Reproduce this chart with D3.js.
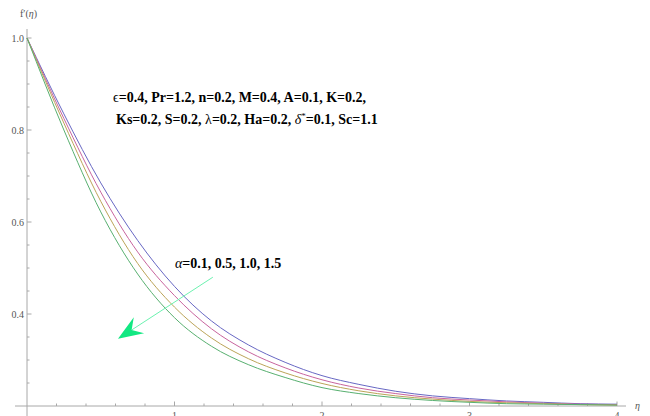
<!DOCTYPE html>
<html><head><meta charset="utf-8">
<script src="https://cdn.jsdelivr.net/npm/d3@7"></script>
<style>body{margin:0;background:#fff}svg{display:block}</style>
</head><body>
<script>
const eta = [0,0.25,0.5,0.75,1.0,1.25,1.5,1.75,2.0,2.25,2.5,2.75,3.0,3.25,3.5,3.75,4.0];
const alpha01 = [1.0,0.835,0.685,0.56,0.46,0.385,0.333,0.295,0.266,0.247,0.232,0.222,0.216,0.211,0.208,0.205,0.204];
const alpha05 = [1.0,0.825,0.665,0.535,0.44,0.368,0.318,0.283,0.257,0.239,0.227,0.218,0.213,0.209,0.206,0.204,0.203];
const alpha10 = [1.0,0.815,0.645,0.51,0.415,0.348,0.303,0.272,0.249,0.233,0.222,0.215,0.210,0.207,0.205,0.203,0.202];
const alpha15 = [1.0,0.80,0.622,0.487,0.392,0.33,0.29,0.262,0.24,0.227,0.218,0.212,0.208,0.205,0.204,0.203,0.202];
const seriesColors = ["#6868c4","#c8649e","#bca458","#58b070"];
const xTicks = [1,2,3,4];
const yTicks = [0.4,0.6,0.8,1.0];

const W=650,H=416;
const svg=d3.select("body").append("svg").attr("width",W).attr("height",H);
const x=d3.scaleLinear().domain([0,4]).range([27,617]);
const y=d3.scaleLinear().domain([0.2,1.0]).range([406,38]);
const axisColor="#a8a8a8";
const font="'Liberation Serif','Times New Roman',serif";

svg.append("line").attr("x1",15).attr("x2",626).attr("y1",y(0.2)).attr("y2",y(0.2)).attr("stroke",axisColor).attr("stroke-width",1);
svg.append("line").attr("x1",x(0)).attr("x2",x(0)).attr("y1",29).attr("y2",416).attr("stroke",axisColor).attr("stroke-width",1);

const xMinor=d3.range(0.2,4.001,0.2).filter(v=>Math.abs(v-Math.round(v))>1e-6);
svg.selectAll(".xm").data(xMinor).enter().append("line").attr("x1",d=>x(d)).attr("x2",d=>x(d)).attr("y1",y(0.2)).attr("y2",y(0.2)-2.5).attr("stroke",axisColor);
svg.selectAll(".xM").data(xTicks).enter().append("line").attr("x1",d=>x(d)).attr("x2",d=>x(d)).attr("y1",y(0.2)).attr("y2",y(0.2)-4.5).attr("stroke",axisColor);
svg.selectAll(".xl").data(xTicks).enter().append("text").attr("x",d=>x(d)).attr("y",419).attr("text-anchor","middle").attr("font-family",font).attr("font-size",10).attr("fill","#555").text(d=>d);

const yMinor=d3.range(0.25,1.001,0.05).filter(v=>!yTicks.some(t=>Math.abs(t-v)<1e-6));
svg.selectAll(".ym").data(yMinor).enter().append("line").attr("x1",x(0)).attr("x2",x(0)+2.5).attr("y1",d=>y(d)).attr("y2",d=>y(d)).attr("stroke",axisColor);
svg.selectAll(".yM").data(yTicks).enter().append("line").attr("x1",x(0)).attr("x2",x(0)+4.5).attr("y1",d=>y(d)).attr("y2",d=>y(d)).attr("stroke",axisColor);
svg.selectAll(".yl").data(yTicks).enter().append("text").attr("x",24).attr("y",d=>y(d)+3.5).attr("text-anchor","end").attr("font-family",font).attr("font-size",10).attr("fill","#555").text(d=>d.toFixed(1));

svg.append("text").attr("x",20).attr("y",17).attr("font-family",font).attr("font-size",10).attr("fill","#555").html("f′(<tspan font-style='italic'>η</tspan>)");
svg.append("text").attr("x",635).attr("y",409).attr("font-family",font).attr("font-size",10).attr("font-style","italic").attr("fill","#555").text("η");

const line=d3.line().x((d,i)=>x(eta[i])).y(d=>y(d)).curve(d3.curveMonotoneX);
[alpha01,alpha05,alpha10,alpha15].forEach((s,i)=>{
  svg.append("path").attr("d",line(s)).attr("fill","none").attr("stroke",seriesColors[i]).attr("stroke-width",1);
});

const fs=14;
const t1=svg.append("text").attr("x",113).attr("y",102).attr("font-family",font).attr("font-size",fs).attr("font-weight","bold").attr("fill","#000");
t1.append("tspan").attr("font-weight","normal").text("ϵ");
t1.append("tspan").text("=0.4, Pr=1.2, n=0.2, M=0.4, A=0.1, K=0.2,");
const t2=svg.append("text").attr("x",116).attr("y",124).attr("font-family",font).attr("font-size",fs).attr("font-weight","bold").attr("fill","#000");
t2.append("tspan").text("Ks=0.2, S=0.2, ");
t2.append("tspan").attr("font-weight","normal").text("λ");
t2.append("tspan").text("=0.2, Ha=0.2, ");
t2.append("tspan").attr("font-weight","normal").attr("font-style","italic").text("δ");
t2.append("tspan").attr("font-weight","normal").attr("font-size",9).attr("dy",-5).text("*");
t2.append("tspan").attr("dy",5).text("=0.1, Sc=1.1");

const t3=svg.append("text").attr("x",175).attr("y",268).attr("font-family",font).attr("font-size",fs).attr("font-weight","bold").attr("fill","#000");
t3.append("tspan").attr("font-weight","normal").attr("font-style","italic").text("α");
t3.append("tspan").text("=0.1, 0.5, 1.0, 1.5");

const aStart=[1.26,0.48], aTip=[0.617,0.346];
const sx=x(aStart[0]), sy=y(aStart[1]), tx=x(aTip[0]), ty=y(aTip[1]);
const ang=Math.atan2(ty-sy,tx-sx);
const hl=25, hw=9.5;
const bx=tx-hl*Math.cos(ang), by=ty-hl*Math.sin(ang);
const notch=0.35;
const nx=tx-hl*(1-notch)*Math.cos(ang), ny=ty-hl*(1-notch)*Math.sin(ang);
svg.append("line").attr("x1",sx).attr("y1",sy).attr("x2",nx).attr("y2",ny).attr("stroke","#6cf2b0").attr("stroke-width",1);
const px=-Math.sin(ang), py=Math.cos(ang);
svg.append("path").attr("d",`M${tx},${ty}L${bx+hw*px},${by+hw*py}L${nx},${ny}L${bx-hw*px},${by-hw*py}Z`).attr("fill","#12e882");
</script>
</body></html>
